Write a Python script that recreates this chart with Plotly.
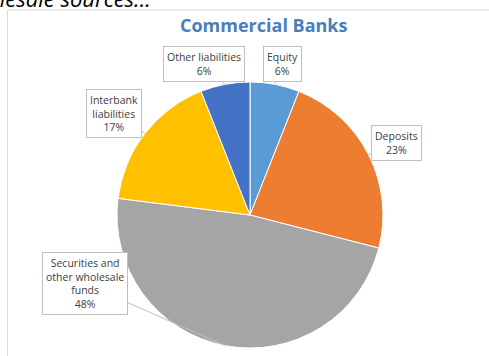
import math
import plotly.graph_objects as go

labels = ["Equity", "Deposits", "Securities and<br>other wholesale<br>funds", "Interbank<br>liabilities", "Other liabilities"]
values = [6, 23, 48, 17, 6]
colors = ["#5B9BD5", "#ED7D31", "#A5A5A5", "#FFC000", "#4472C4"]
# label box offsets (pixels) from the slice edge
offsets = [(8, -20), (28, -12), (-140, -62), (-31, -20), (-21, -20)]

W, H = 489, 356
cx, cy, r = 250, 215, 133

fig = go.Figure(go.Pie(
    labels=labels, values=values, sort=False, direction="clockwise", rotation=0,
    marker=dict(colors=colors, line=dict(color="white", width=1)),
    textinfo="none", hoverinfo="label+percent", showlegend=False,
    domain=dict(x=[(cx - r) / W, (cx + r) / W], y=[1 - (cy + r) / H, 1 - (cy - r) / H]),
))

total = sum(values)
cum = 0
anns = []
for lab, v, (ax, ay) in zip(labels, values, offsets):
    mid = (cum + v / 2) / total * 2 * math.pi
    cum += v
    px = cx + r * math.sin(mid)
    py = cy - r * math.cos(mid)
    anns.append(dict(
        x=px / W, y=1 - py / H, xref="paper", yref="paper",
        text=f"{lab}<br>{round(v / total * 100)}%",
        showarrow=True, ax=ax, ay=ay, arrowhead=0, arrowwidth=1, arrowcolor="#BFBFBF",
        bgcolor="white", bordercolor="#BFBFBF", borderwidth=1, borderpad=3,
        font=dict(family="Open Sans, Noto Sans, sans-serif", size=10.5, color="#404040"),
    ))

anns.append(dict(
    x=263.5 / W, y=1 - 25 / H, xref="paper", yref="paper", showarrow=False,
    text="<b>Commercial Banks</b>", xanchor="center", yanchor="middle",
    font=dict(family="Open Sans, Noto Sans, sans-serif", size=18, color="#4A7EBB"),
))
anns.append(dict(
    x=153 / W, y=1 - (-2) / H, xref="paper", yref="paper", showarrow=False,
    text="<i>wholesale sources...</i>", xanchor="right", yanchor="middle",
    font=dict(family="Open Sans, Noto Sans, sans-serif", size=22, color="#000000"),
))

fig.update_layout(
    width=W, height=H, margin=dict(l=0, r=0, t=0, b=0),
    paper_bgcolor="white", plot_bgcolor="white",
    annotations=anns,
    shapes=[dict(type="rect", xref="paper", yref="paper",
                 x0=7.5 / W, x1=1.05, y0=-0.05, y1=1 - 10 / H,
                 line=dict(color="#D9D9D9", width=1), layer="below")],
)

fig.write_html("out.html", config={"displayModeBar": False},
               post_script="document.body.style.margin='0';")
